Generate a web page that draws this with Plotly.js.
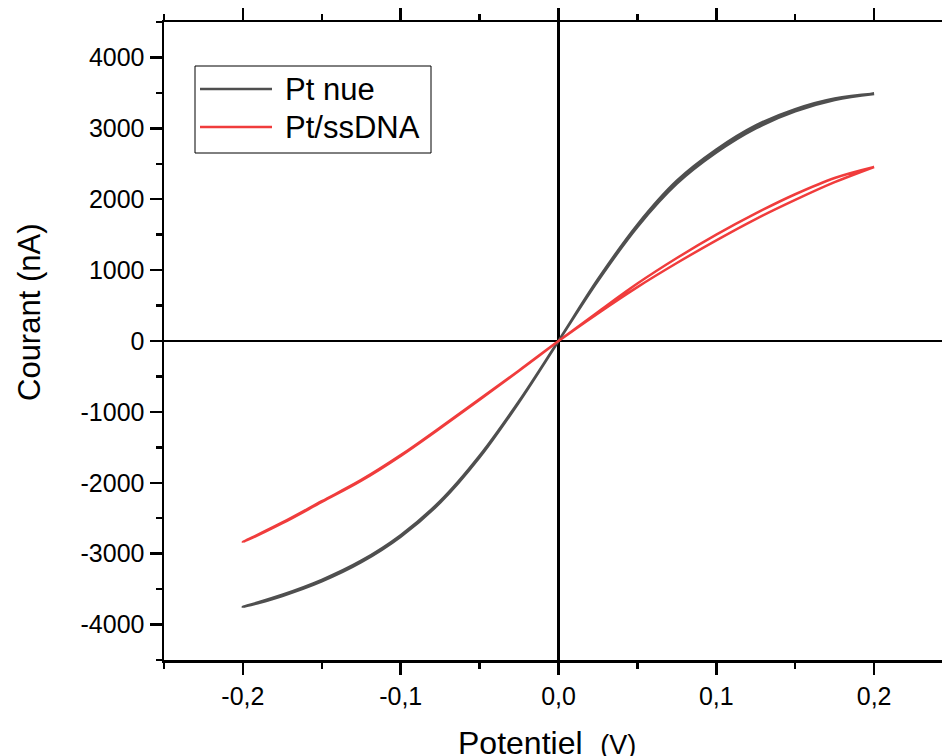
<!DOCTYPE html>
<html>
<head>
<meta charset="utf-8">
<script src="https://cdn.plot.ly/plotly-3.0.1.min.js"></script>
<style>
html,body{margin:0;padding:0;overflow:hidden;background:#fff;}
#chart{width:1000px;height:756px;}
</style>
</head>
<body>
<div id="chart"></div>
<script>
// ---- data ----
const potential = [-0.2,-0.175,-0.15,-0.125,-0.1,-0.075,-0.05,-0.025,0,0.025,0.05,0.075,0.1,0.125,0.15,0.175,0.2];
const ptNueForward = [-3753,-3580,-3370,-3100,-2740,-2260,-1620,-850,0,850,1610,2220,2660,3000,3240,3400,3485];
const ptNueReverse = [-3753,-3595,-3390,-3120,-2760,-2280,-1640,-860,0,870,1640,2260,2700,3040,3270,3420,3485];
const ssdnaForward = [-2836,-2560,-2260,-1960,-1610,-1220,-820,-415,0,390,760,1100,1420,1720,1990,2240,2455];
const ssdnaReverse = [-2836,-2570,-2270,-1970,-1620,-1230,-830,-420,0,410,810,1170,1500,1800,2070,2300,2455];
const seriesNames = ['Pt nue','Pt/ssDNA'];
const seriesColors = ['#4f4f4f','#f03c3c'];
const xTickVals = [-0.2,-0.1,0,0.1,0.2];
const xTickText = ['-0,2','-0,1','0,0','0,1','0,2'];
const yTickVals = [-4000,-3000,-2000,-1000,0,1000,2000,3000,4000];
const yTickText = ['-4000','-3000','-2000','-1000','0','1000','2000','3000','4000'];

// ---- geometry ----
const W = 1000, H = 756;
const L = 164, R = 953, T = 22, B = 660;
const px = x => (x - L) / (R - L);
const py = y => (B - y) / (B - T);
const FONT = 'Liberation Sans, Arial, sans-serif';

function loop(fwd, rev) {
  const xs = potential.concat(potential.slice().reverse());
  const ys = fwd.concat(rev.slice().reverse());
  return {x: xs, y: ys};
}
const a = loop(ptNueForward, ptNueReverse);
const b = loop(ssdnaForward, ssdnaReverse);

const traces = [
  {x: a.x, y: a.y, mode: 'lines', name: seriesNames[0], line: {color: seriesColors[0], width: 2.7, shape: 'spline', smoothing: 1}},
  {x: b.x, y: b.y, mode: 'lines', name: seriesNames[1], line: {color: seriesColors[1], width: 2.5, shape: 'spline', smoothing: 1}}
];

const axisCommon = {
  showgrid: false, showline: true, linecolor: '#000', linewidth: 2.5,
  ticks: 'outside', ticklen: 12, tickwidth: 2.5, tickcolor: '#000',
  zeroline: true, zerolinecolor: '#000', zerolinewidth: 2.5,
  tickfont: {family: FONT, size: 25, color: '#000'},
  tickmode: 'array'
};

const shapes = [
  {type: 'rect', xref: 'paper', yref: 'paper', x0: px(195), x1: px(431), y0: py(66), y1: py(153),
   line: {color: '#000', width: 1}, fillcolor: '#fff', layer: 'above'},
  {type: 'line', xref: 'paper', yref: 'paper', x0: px(200), x1: px(272), y0: py(89), y1: py(89),
   line: {color: seriesColors[0], width: 2.5}, layer: 'above'},
  {type: 'line', xref: 'paper', yref: 'paper', x0: px(200), x1: px(272), y0: py(127), y1: py(127),
   line: {color: seriesColors[1], width: 2.5}, layer: 'above'}
];

const annotations = [
  {xref: 'paper', yref: 'paper', x: px(283), y: py(89), xanchor: 'left', yanchor: 'middle', showarrow: false,
   text: seriesNames[0], font: {family: FONT, size: 31, color: '#000'}},
  {xref: 'paper', yref: 'paper', x: px(283), y: py(127), xanchor: 'left', yanchor: 'middle', showarrow: false,
   text: seriesNames[1], font: {family: FONT, size: 31, color: '#000'}},
  {xref: 'paper', yref: 'paper', x: px(547), y: py(743), xanchor: 'center', yanchor: 'middle', showarrow: false,
   text: 'Potentiel&nbsp;&nbsp;<span style="font-size:27px">(V)</span>', font: {family: FONT, size: 32, color: '#000'}},
  {xref: 'paper', yref: 'paper', x: px(29), y: py(313), xanchor: 'center', yanchor: 'middle', showarrow: false,
   textangle: -90, text: 'Courant (nA)', font: {family: FONT, size: 31, color: '#000'}}
];

const layout = {
  width: W, height: H,
  margin: {l: L, r: W - R, t: T, b: H - B},
  paper_bgcolor: '#fff', plot_bgcolor: '#fff',
  showlegend: false,
  xaxis: Object.assign({}, axisCommon, {
    range: [-0.25, 0.25], tickvals: xTickVals, ticktext: xTickText, mirror: 'ticks',
    minor: {tick0: 0, dtick: 0.05, ticks: 'outside', ticklen: 6, tickwidth: 2.5, tickcolor: '#000'}
  }),
  yaxis: Object.assign({}, axisCommon, {
    range: [-4500, 4500], tickvals: yTickVals, ticktext: yTickText,
    minor: {tick0: 0, dtick: 500, ticks: 'outside', ticklen: 6, tickwidth: 2.5, tickcolor: '#000'}
  }),
  yaxis2: {
    overlaying: 'y', side: 'right', range: [-4500, 4500], showgrid: false, zeroline: false,
    showline: true, linecolor: '#000', linewidth: 2.5,
    ticks: 'inside', ticklen: 12, tickwidth: 2.5, tickcolor: '#000',
    tickmode: 'array', tickvals: yTickVals, showticklabels: false
  },
  shapes: shapes,
  annotations: annotations
};

Plotly.newPlot('chart', traces, layout, {staticPlot: true, displayModeBar: false});
</script>
</body>
</html>
